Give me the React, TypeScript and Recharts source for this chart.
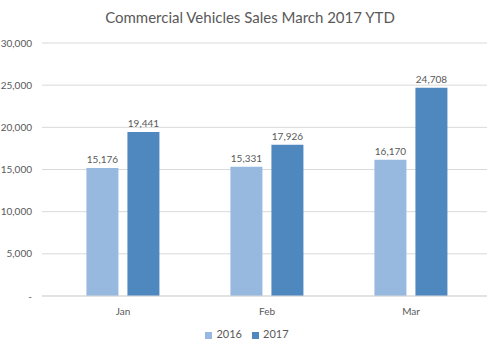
import React from "react";
import { BarChart, Bar, XAxis, YAxis, CartesianGrid, Legend, LabelList } from "recharts";

const months = ["Jan", "Feb", "Mar"];
const sales2016 = [15176, 15331, 16170];
const sales2017 = [19441, 17926, 24708];
const yTicks = [0, 5000, 10000, 15000, 20000, 25000, 30000];

const data = months.map((m, i) => ({ month: m, y2016: sales2016[i], y2017: sales2017[i] }));

const FONT = "Lato, 'Open Sans', sans-serif";
const GRAY = "#595959";
const C16 = "#97B9E0";
const C17 = "#4F88BF";

const fmt = (v: number) => (v === 0 ? "-" : v.toLocaleString("en-US"));

export default function App() {
  return (
    <div style={{ position: "absolute", left: 0, top: 0, width: 500, height: 350, background: "#fff", fontFamily: FONT }}>
      <div
        style={{
          position: "absolute",
          top: 8,
          left: 0,
          width: 500,
          textAlign: "center",
          fontSize: 15,
          color: GRAY,
          fontFamily: FONT,
        }}
      >
        Commercial Vehicles Sales March 2017 YTD
      </div>
      <BarChart
        width={500}
        height={350}
        data={data}
        margin={{ top: 43, right: 13, left: 0, bottom: 11 }}
        barCategoryGap="24.6%"
        barGap={9}
      >
        <CartesianGrid vertical={false} stroke="#D9D9D9" />
        <XAxis
          dataKey="month"
          axisLine={{ stroke: "#D9D9D9" }}
          tickLine={false}
          padding={{ left: 9, right: 4 }}
          tick={{ fontSize: 10, fill: GRAY, fontFamily: FONT }}
          tickMargin={6}
        />
        <YAxis
          width={42}
          domain={[0, 30000]}
          ticks={yTicks}
          tickFormatter={fmt}
          axisLine={false}
          tickLine={false}
          tick={{ fontSize: 10, fill: GRAY, fontFamily: FONT }}
          tickMargin={4}
        />
        <Legend
          verticalAlign="bottom"
          iconType="square"
          iconSize={7}
          wrapperStyle={{ fontSize: 11, fontFamily: FONT, color: GRAY, bottom: 10, left: 2, width: 500 }}
          formatter={(value: string) => <span style={{ color: GRAY }}>{value}</span>}
        />
        <Bar dataKey="y2016" name="2016" fill={C16} isAnimationActive={false}>
          <LabelList dataKey="y2016" position="top" formatter={fmt} style={{ fontSize: 10, fill: GRAY, fontFamily: FONT }} />
        </Bar>
        <Bar dataKey="y2017" name="2017" fill={C17} isAnimationActive={false}>
          <LabelList dataKey="y2017" position="top" formatter={fmt} style={{ fontSize: 10, fill: GRAY, fontFamily: FONT }} />
        </Bar>
      </BarChart>
    </div>
  );
}
